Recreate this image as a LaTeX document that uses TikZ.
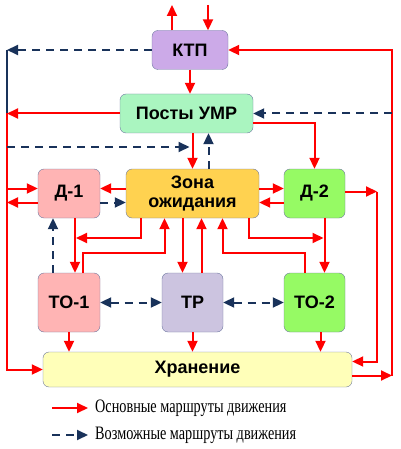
\documentclass[tikz,border=0pt]{standalone}
\usepackage{fontspec}
\usepackage{tikz}
\usetikzlibrary{arrows.meta,positioning}
\newfontfamily\boxfont{Liberation Sans}
\newfontfamily\legendfont{Liberation Serif}[FakeStretch=0.75]
\definecolor{routered}{RGB}{255,0,0}
\definecolor{routeblue}{RGB}{25,50,90}
\definecolor{boxedge}{RGB}{110,120,160}
\definecolor{ktpfill}{RGB}{204,170,232}
\definecolor{umrfill}{RGB}{170,245,192}
\definecolor{zonefill}{RGB}{255,210,80}
\definecolor{pinkfill}{RGB}{255,180,180}
\definecolor{greenfill}{RGB}{150,250,100}
\definecolor{tpfill}{RGB}{204,196,224}
\definecolor{storefill}{RGB}{255,255,185}
\tikzstyle{block} = [rectangle, rounded corners=6pt, draw=boxedge, inner sep=0pt, text centered, align=center, font=\boxfont\bfseries\fontsize{18}{19.5}\selectfont]
\tikzstyle{main} = [line width=2pt, ->, >={Triangle[length=11pt,width=10pt]}, color=routered]
\tikzstyle{maybe} = [line width=2pt, ->, >={Triangle[length=11pt,width=10pt]}, color=routeblue, dash pattern=on 8pt off 6pt]
\tikzstyle{legendtext} = [anchor=west, inner sep=0pt, font=\legendfont\fontsize{19}{20}\selectfont]

\begin{document}
\begin{tikzpicture}[x=1pt, y=-1pt]
\useasboundingbox (0,0) rectangle (400,449);
% boxes
\node (ktp) [block, fill=ktpfill, minimum width=76pt, minimum height=39pt] at (190,50) {КТП};
\node (umr) [block, fill=umrfill, minimum width=133pt, minimum height=39pt] at (186.5,113.5) {Посты УМР};
\node (d1) [block, fill=pinkfill, minimum width=62pt, minimum height=49pt] at (69,193.5) {Д-1};
\node (zone) [block, fill=zonefill, minimum width=133pt, minimum height=49pt] at (192.5,193.5) {Зона\\ожидания};
\node (d2) [block, fill=greenfill, minimum width=61pt, minimum height=49pt] at (314.5,193.5) {Д-2};
\node (to1) [block, fill=pinkfill, minimum width=62pt, minimum height=59pt] at (69,302.5) {ТО-1};
\node (tp) [block, fill=tpfill, minimum width=61pt, minimum height=59pt] at (192.5,302.5) {ТР};
\node (to2) [block, fill=greenfill, minimum width=61pt, minimum height=59pt] at (314.5,302.5) {ТО-2};
\node (store) [block, fill=storefill, minimum width=309pt, minimum height=35pt] at (197.5,369.5) {Хранение};
% outer lines
\coordinate (top) at (0,5);
\coordinate (west) at (7,0);
\coordinate (east) at (392,0);
\coordinate (eastin) at (377,0);
\coordinate (dash1) at (0,147);
\coordinate (low1) at (0,238);
\coordinate (low2) at (0,253);
% top
\draw [main] ([xshift=-18pt]ktp.north) -- ([xshift=-18pt]ktp.north |- top);
\draw [main] ([xshift=18pt]ktp.north |- top) -- ([xshift=18pt]ktp.north);
\draw [main] (ktp.south) -- (ktp.south |- umr.north);
% left side
\draw [maybe] (ktp.west) -- (ktp.west -| west);
\draw [line width=2pt, color=routeblue] (ktp.west -| west) -- (umr.west -| west);
\draw [main] (umr.west) -- (umr.west -| west);
\draw [main] (umr.west -| west) |- (store.west);
\draw [maybe] (dash1 -| west) -- ([xshift=-3pt]dash1 -| zone.north);
% right side
\draw [main] ([yshift=-6pt]store.east) -- ([yshift=-6pt]store.east -| east);
\draw [main] ([yshift=-6pt]store.east -| east) |- (ktp.east);
\draw [maybe] (umr.east -| east) -- (umr.east);
\draw [main] ([yshift=-10pt]umr.east) -| (d2.north);
\draw [main] ([yshift=2pt]d2.east) -- ([yshift=2pt]d2.east -| eastin);
\draw [main] ([yshift=2pt]d2.east -| eastin) |- ([yshift=8pt]store.east);
% middle row
\draw [main] (zone.north |- umr.south) -- (zone.north);
\draw [maybe] ([xshift=16pt]zone.north) -- ([xshift=16pt]zone.north |- umr.south);
\draw [main] ([yshift=5pt]d1.west -| west) -- ([yshift=5pt]d1.west);
\draw [main] ([yshift=-9pt]d1.west) -- ([yshift=-9pt]d1.west -| west);
\draw [main] ([yshift=5pt]zone.west) -- ([yshift=5pt]d1.east);
\draw [maybe] ([yshift=-9pt]d1.east) -- ([yshift=-9pt]zone.west);
\draw [main] ([yshift=5pt]zone.east) -- ([yshift=5pt]d2.west);
\draw [main] ([yshift=-9pt]d2.west) -- ([yshift=-9pt]zone.east);
% down to service
\draw [main] ([xshift=6pt]d1.south) -- ([xshift=6pt]to1.north);
\draw [maybe] ([xshift=-16pt]to1.north) -- ([xshift=-16pt]d1.south);
\draw [main] ([xshift=-52pt]zone.south) |- ([xshift=7pt]d1.south |- low1);
\draw [main] ([xshift=14pt]to1.north) -- ([xshift=14pt]to1.north |- low2) -| ([xshift=-28pt]zone.south);
\draw [main] ([xshift=-10pt]zone.south) -- ([xshift=-10pt]tp.north);
\draw [main] ([xshift=9pt]tp.north) -- ([xshift=9pt]zone.south);
\draw [main] ([xshift=-10pt]to2.north) -- ([xshift=-10pt]to2.north |- low2) -| ([xshift=30pt]zone.south);
\draw [main] ([xshift=56pt]zone.south) |- ([xshift=9pt]d2.south |- low1);
\draw [main] ([xshift=10pt]d2.south) -- ([xshift=10pt]to2.north);
\draw [maybe, <->] (to1.east) -- (tp.west);
\draw [maybe, <->] (tp.east) -- (to2.west);
% to storage
\draw [main] (to1.south) -- (to1.south |- store.north);
\draw [main] (tp.south) -- (tp.south |- store.north);
\draw [main] ([xshift=6pt]to2.south) -- ([xshift=6pt]to2.south |- store.north);
% legend
\coordinate (leg1) at (52,408);
\coordinate (leg2) at (52,435);
\node (legmain) [legendtext] at (95,408) {Основные маршруты движения};
\node (legmaybe) [legendtext] at (95,435) {Возможные маршруты движения};
\draw [main] (leg1) -- ([xshift=-7pt]legmain.west);
\draw [maybe] (leg2) -- ([xshift=-7pt]legmaybe.west);
\end{tikzpicture}
\end{document}
